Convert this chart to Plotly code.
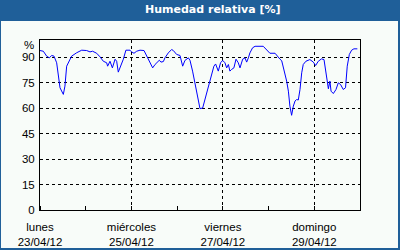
import pandas as pd
import plotly.graph_objects as go

# hours after 2012-04-23 00:00 and relative humidity [%]
hours = [0, 1.75, 3.5, 4.9, 6.1, 7.35, 8.75, 9.6, 10.5, 12.25, 13.1, 14, 14.9, 16.6, 19.25, 21.9,
         24.5, 26.25, 27.6, 29.75, 31.5, 33.25, 35, 35.5, 36.75, 38, 39.4, 40.25, 41.1, 42.35, 43.75,
         45.1, 47.25, 48.1, 49.35, 50.75, 52.5, 54.6, 56, 57.75, 59.15, 60.4, 61.6, 62.65, 63.5, 64.75,
         65.6, 67.35, 69.1, 70, 71.75, 73.5, 74.9, 76.1, 77.9, 78.75, 80.1, 82.2, 83.6,
         84, 85.4, 86.6, 87.5, 88.9, 90.1, 91.3, 92.2, 93.6, 94.8, 95.9, 97.1, 98, 98.9, 99.7, 100.6,
         101.8, 102.9, 104.1, 105, 106.4, 107.6, 108.5, 109.4, 110.2, 111.6, 112.9, 117.2, 119, 120.7,
         123.4, 124.6, 126, 126.9, 127.7, 128.6, 129.5, 130.4, 131.2, 132.1, 133, 133.9, 134.7, 135.6,
         136.5, 137.4, 138.2, 139.6, 141.7, 143.5, 144.7, 146.1, 147.8, 149.1, 150.1, 150.8, 151.4,
         152.2, 152.8, 154, 155.4, 156.6, 157.8, 159.2, 160.4, 161.3, 162.4, 163.6, 164.8, 166.6]
humidity = [93.8, 93.4, 90.5, 89.5, 90.9, 90.5, 86.6, 80.7, 71.9, 68, 72.9, 84.6, 86.6, 90.5, 92.5, 94,
            93.8, 93, 93.4, 92.2, 90.1, 87.5, 86.6, 84.6, 87.5, 83.6, 88.7, 87.5, 81.1, 84.6, 88.7,
            94, 94, 93, 92.2, 93.4, 94, 93.8, 90.9, 86.6, 83.6, 85.6, 87, 88.1, 87, 87.3,
            89.5, 92.4, 94.4, 93.8, 91.5, 90.9, 84.6, 88, 89.5, 88, 81.7, 69, 60.2,
            59.6, 60, 65, 69.9, 74.8, 79.7, 84.6, 85.9, 81.7, 86.6, 88, 86.6, 83.6, 85.6, 81.7, 82.7,
            83.6, 88.7, 86.6, 83.6, 88.7, 89.5, 87, 89.5, 92.4, 95.4, 96.3, 96.3, 94.4, 92.2,
            92.2, 90.3, 88.7, 87.8, 84.6, 80.7, 75.8, 69.9, 61.1, 55.7, 61.1, 64.1, 65, 64.7,
            70.9, 80.7, 85.6, 87.5, 88.5, 87, 85, 87.5, 88.9, 88.5, 80.7, 75.8, 71.3,
            75.8, 69.9, 68.5, 70.9, 74.8, 73.8, 70.9, 71.9, 84.6, 91.5, 94, 94.8, 94.8]

tick_dates = ["2012-04-23", "2012-04-25", "2012-04-27", "2012-04-29"]
tick_labels = ["lunes<br>23/04/12", "miércoles<br>25/04/12", "viernes<br>27/04/12", "domingo<br>29/04/12"]
y_ticks = [0, 15, 30, 45, 60, 75, 90]

base = pd.Timestamp("2012-04-23")
times = [base + pd.Timedelta(hours=h) for h in hours]

BLUE = "#1f5f99"
BG = "#f8fcf9"
FONT = "Liberation Sans"

fig = go.Figure(go.Scatter(x=times, y=humidity, mode="lines",
                           line=dict(color="#0000ff", width=1), hoverinfo="skip"))

fig.update_layout(
    width=400, height=250,
    margin=dict(l=40, r=40, t=40, b=40, autoexpand=False),
    paper_bgcolor=BLUE, plot_bgcolor=BG,
    showlegend=False,
    font=dict(family=FONT, size=11.5, color="#000000"),
    xaxis=dict(range=["2012-04-23", "2012-04-30"], tickvals=tick_dates, ticktext=tick_labels,
               showgrid=True, gridcolor="#000000", gridwidth=1, griddash="3px,3px",
               showline=True, linecolor="#000000", linewidth=1, mirror=True,
               ticks="", zeroline=False, ticklabelstandoff=6, automargin=False,
               minor=dict(dtick=86400000, tick0="2012-04-23", ticks="inside", ticklen=4,
                          tickcolor="#000000", showgrid=False)),
    yaxis=dict(range=[0, 100], tickvals=y_ticks,
               showgrid=True, gridcolor="#000000", gridwidth=1, griddash="3px,3px",
               showline=True, linecolor="#000000", linewidth=1, mirror=True,
               ticks="", zeroline=False, ticklabelstandoff=2, automargin=False),
    shapes=[dict(type="rect", xref="paper", yref="paper", x0=-0.1219, x1=1.11875,
                 y0=-0.2235, y1=1.1118, fillcolor=BG, line=dict(width=0), layer="below")],
    annotations=[
        dict(text="<b>Humedad relativa [%]</b>", xref="paper", yref="paper",
             x=(213 - 40) / 320, y=(210 - 10) / 170, showarrow=False,
             font=dict(family="DejaVu Sans", size=11, color="#ffffff"),
             xanchor="center", yanchor="middle"),
        dict(text="%", xref="paper", yref="paper", x=(36 - 40) / 320, y=(210 - 45) / 170,
             showarrow=False, xanchor="right", yanchor="middle",
             font=dict(family=FONT, size=11.5, color="#000000")),
    ],
)

fig.write_html("out.html")
